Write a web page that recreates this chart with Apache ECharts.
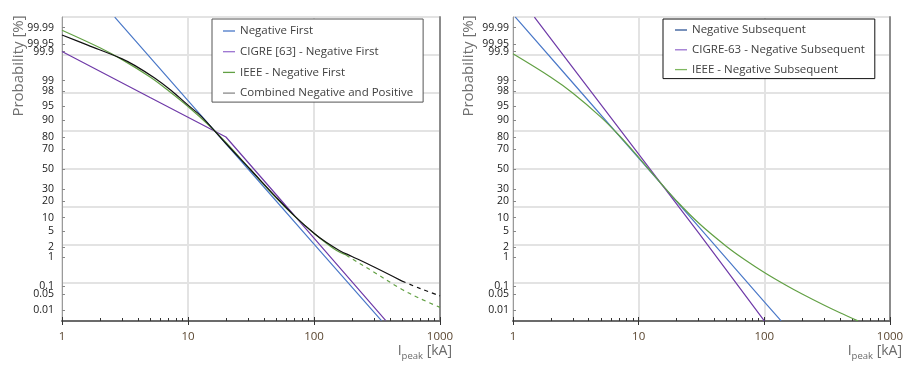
<!DOCTYPE html>
<html><head><meta charset="utf-8">
<script src="https://cdn.jsdelivr.net/npm/echarts@6/dist/echarts.min.js"></script>
<style>html,body{margin:0;padding:0;background:#fff}#c{width:919px;height:369px}</style>
</head><body><div id="c"></div>
<script>
// ---- data (current in kA, probability in %) ----
const yTickLabels = ['0.01','0.05','0.1','1','2','5','10','20','30','50','70','80','90','95','98','99','99.9','99.95','99.99'];
const yTickProb = [0.01,0.05,0.1,1,2,5,10,20,30,50,70,80,90,95,98,99,99.9,99.95,99.99];
const xTickLabels = ['1','10','100','1000'];

// left panel
const negFirstI = [2.62, 10, 30, 100, 343];
const negFirstP = [99.9968, 96.4, 50, 2.4, 0.0033];
const cigreFirstI = [1, 5, 20, 50, 100, 370];
const cigreFirstP = [99.9, 97.0, 80, 25.1, 3.46, 0.0034];
const ieeeFirstI = [1, 2, 3, 5, 7, 10, 15, 20, 31, 50, 70, 100, 150, 180];
const ieeeFirstP = [99.987, 99.929, 99.80, 99.224, 98.03, 95.0, 86.85, 75.76, 50, 22.39, 10.74, 4.54, 1.62, 1.19];
const ieeeFirstDashI = [180, 200, 300, 500, 700, 1000];
const ieeeFirstDashP = [1.19, 0.91, 0.33, 0.076, 0.032, 0.0135];
const combinedI = [1, 1.6, 3, 3.8, 5.4, 7.4, 10, 12.8, 20, 31, 50, 70, 100, 125, 160, 200, 300, 500];
const combinedP = [99.979, 99.944, 99.813, 99.674, 99.18, 98.03, 95.35, 91.6, 74.9, 50, 23, 10.9, 4.55, 2.68, 1.58, 1.07, 0.494, 0.159];
const combinedDashI = [500, 700, 1000];
const combinedDashP = [0.159, 0.082, 0.042];

// right panel
const negSubI = [1.04, 3, 10, 30, 100, 136];
const negSubP = [99.9969, 98.82, 61.2, 6.44, 0.0235, 0.0032];
const cigreSubI = [1.48, 3, 10, 30, 100];
const cigreSubP = [99.9968, 99.61, 65.2, 4.63, 0.0032];
const ieeeSubI = [1, 2, 3, 5, 7, 10, 12, 15, 20, 30, 50, 70, 100, 150, 200, 300, 400, 556];
const ieeeSubP = [99.878, 99.21, 97.69, 91.41, 81.08, 62.07, 50, 35.38, 20.11, 7.77, 2.08, 0.848, 0.325, 0.109, 0.0502, 0.0168, 0.00773, 0.0032];

// ---- probability-paper transform (inverse normal CDF) ----
function normInv(p){
  const a=[-3.969683028665376e+01,2.209460984245205e+02,-2.759285104469687e+02,1.383577518672690e+02,-3.066479806614716e+01,2.506628277459239e+00];
  const b=[-5.447609879822406e+01,1.615858368580409e+02,-1.556989798598866e+02,6.680131188771972e+01,-1.328068155288572e+01];
  const c=[-7.784894002430293e-03,-3.223964580411365e-01,-2.400758277161838e+00,-2.549671790485362e+00,4.374664141464968e+00,2.938163982698783e+00];
  const d=[7.784695709041462e-03,3.224671290700398e-01,2.445134137142996e+00,3.754408661907416e+00];
  const pl=0.02425, ph=1-pl;
  if(p<pl){const q=Math.sqrt(-2*Math.log(p));return (((((c[0]*q+c[1])*q+c[2])*q+c[3])*q+c[4])*q+c[5])/((((d[0]*q+d[1])*q+d[2])*q+d[3])*q+1);}
  if(p<=ph){const q=p-0.5,r=q*q;return (((((a[0]*r+a[1])*r+a[2])*r+a[3])*r+a[4])*r+a[5])*q/(((((b[0]*r+b[1])*r+b[2])*r+b[3])*r+b[4])*r+1);}
  const q=Math.sqrt(-2*Math.log(1-p));return -(((((c[0]*q+c[1])*q+c[2])*q+c[3])*q+c[4])*q+c[5])/((((d[0]*q+d[1])*q+d[2])*q+d[3])*q+1);
}
const z = p => normInv(p/100);
const pairs = (I,P) => I.map((v,i)=>[v, z(P[i])]);
const yTickZ = yTickProb.map(z);

const FONT = 'Open Sans';
const C_BLUE='#4a78c8', C_PURPLE='#6f3aa8', C_GREEN='#62a044', C_BLACK='#111111';

function xAxes(g){
  return [
    {type:'log', logBase:10, gridIndex:g, min:1, max:1000, position:'bottom',
     axisLine:{show:true, onZero:false, lineStyle:{color:'#6b6b6b', width:2}},
     axisTick:{show:true, inside:true, length:4, lineStyle:{color:'#333'}},
     minorTick:{show:true, splitNumber:9, length:3, lineStyle:{color:'#333'}},
     splitLine:{show:true, lineStyle:{color:'#e3e3e3', width:2}},
     minorSplitLine:{show:false},
     axisLabel:{show:true, color:'#5a4630', fontFamily:FONT, fontSize:11.5, margin:10,
       formatter:(v)=>xTickLabels[Math.round(Math.log10(v))]},
     name:'{i|I}{s|peak}{i| [kA]}', nameLocation:'end', nameGap:12,
     nameTextStyle:{align:'right', verticalAlign:'top', padding:[21,0,0,0],
       rich:{i:{fontFamily:FONT, fontSize:14, color:'#6a6a6a'}, s:{fontFamily:FONT, fontSize:9.5, color:'#6a6a6a', padding:[9,0,0,0]}}}
    },
    {type:'log', logBase:10, gridIndex:g, min:1, max:1000, position:'bottom',
     axisLine:{show:false, onZero:false}, axisTick:{show:true, inside:false, length:4, lineStyle:{color:'#333'}},
     splitLine:{show:false}, axisLabel:{show:false}}
  ];
}
function yAxes(g, labelMargin){
  return [
    {type:'value', gridIndex:g, min:-4, max:4, interval:1, position:'left',
     axisLine:{show:true, onZero:false, lineStyle:{color:'#9a9a9a', width:1}}, axisTick:{show:false}, axisLabel:{show:false},
     splitLine:{show:true, lineStyle:{color:'#e3e3e3', width:2}}},
    {type:'value', gridIndex:g, min:-4, max:4, position:'left',
     axisLine:{show:false, onZero:false}, splitLine:{show:false},
     axisTick:{show:true, inside:true, length:3, customValues:yTickZ, lineStyle:{color:'#888'}},
     axisLabel:{show:true, customValues:yTickZ, margin:labelMargin, color:'#1a1a1a', fontFamily:FONT, fontSize:10.5,
       formatter:(v)=>{let bi=0,bd=1e9;yTickZ.forEach((t,i)=>{const dd=Math.abs(t-v);if(dd<bd){bd=dd;bi=i;}});return yTickLabels[bi];}}},
    {type:'value', gridIndex:g, min:-4, max:4, position:'right',
     axisLine:{show:true, onZero:false, lineStyle:{color:'#8c8c8c', width:2}}, axisTick:{show:false}, axisLabel:{show:false}, splitLine:{show:false}}
  ];
}
function line(name, data, color, xi, yi, dashed, smooth){
  return {type:'line', name, data, xAxisIndex:xi, yAxisIndex:yi, symbol:'none', smooth: smooth ? 0.35 : false, silent:true,
    lineStyle:{color, width:1.2, type: dashed ? [4,4] : 'solid'}, itemStyle:{color}, clip:true, z: dashed?2:3};
}

const legendText = {color:'#404040', fontFamily:FONT, fontSize:11.5, lineHeight:14};
const option = {
  animation:false,
  backgroundColor:'#ffffff',
  grid:[
    {left:62, top:17, width:378, height:304, show:true, borderColor:'#5e5e5e', borderWidth:1, containLabel:false},
    {left:513, top:17, width:377, height:304, show:true, borderColor:'#5e5e5e', borderWidth:1, containLabel:false}
  ],
  xAxis:[...xAxes(0), ...xAxes(1)],
  yAxis:[...yAxes(0, 8), ...yAxes(1, 4)],
  legend:[
    {orient:'vertical', left:212, top:19, padding:[5,10,2,11], itemGap:6.7, itemWidth:12, itemHeight:1.3, icon:'rect',
     backgroundColor:'#fff', borderColor:'#555', borderWidth:1, textStyle:legendText, selectedMode:false,
     data:[{name:'Negative First'},{name:'CIGRE [63] - Negative First', itemStyle:{color:'#9a72d0'}},{name:'IEEE - Negative First'},
           {name:'Combined Negative and Positive', itemStyle:{color:'#8a8a8a'}}]},
    {orient:'vertical', left:663, top:19, padding:[4,10,2,12], itemGap:5.8, itemWidth:12, itemHeight:1.3, icon:'rect',
     backgroundColor:'#fff', borderColor:'#111', borderWidth:1, textStyle:legendText, selectedMode:false,
     data:[{name:'Negative Subsequent', itemStyle:{color:'#2f5597'}},{name:'CIGRE-63 - Negative Subsequent', itemStyle:{color:'#9a72d0'}},{name:'IEEE - Negative Subsequent', itemStyle:{color:'#7fb860'}}]}
  ],
  graphic:[
    {type:'text', x:19, y:66, rotation:Math.PI/2, style:{text:'Probability [%]', fill:'#707070', font:'15px "Open Sans"', align:'center', verticalAlign:'middle'}},
    {type:'text', x:469, y:66, rotation:Math.PI/2, style:{text:'Probability [%]', fill:'#707070', font:'15px "Open Sans"', align:'center', verticalAlign:'middle'}}
  ],
  series:[
    line('Negative First', pairs(negFirstI, negFirstP), C_BLUE, 0, 0),
    line('CIGRE [63] - Negative First', pairs(cigreFirstI, cigreFirstP), C_PURPLE, 0, 0),
    line('IEEE - Negative First', pairs(ieeeFirstI, ieeeFirstP), C_GREEN, 0, 0, false, true),
    line('Combined Negative and Positive', pairs(combinedI, combinedP), C_BLACK, 0, 0, false, true),
    line('IEEE - Negative First', pairs(ieeeFirstDashI, ieeeFirstDashP), C_GREEN, 0, 0, true, true),
    line('Combined Negative and Positive', pairs(combinedDashI, combinedDashP), C_BLACK, 0, 0, true, true),
    line('Negative Subsequent', pairs(negSubI, negSubP), '#4a78c8', 2, 3),
    line('CIGRE-63 - Negative Subsequent', pairs(cigreSubI, cigreSubP), C_PURPLE, 2, 3),
    line('IEEE - Negative Subsequent', pairs(ieeeSubI, ieeeSubP), C_GREEN, 2, 3, false, true)
  ]
};
const chart = echarts.init(document.getElementById('c'), null, {renderer:'canvas'});
chart.setOption(option);
</script></body></html>
